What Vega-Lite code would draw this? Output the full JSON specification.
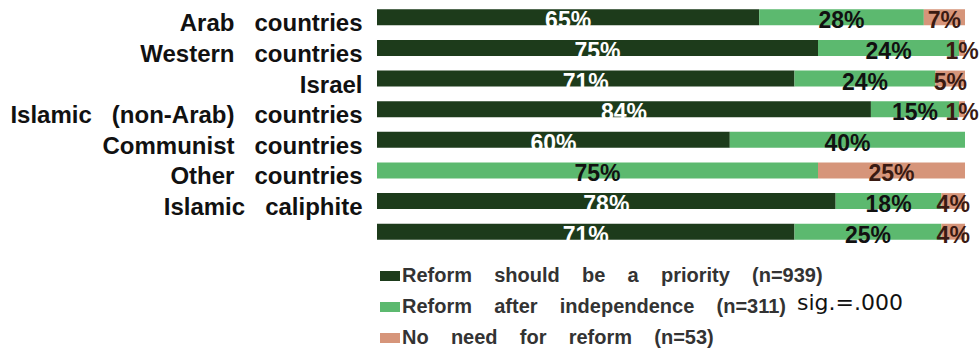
{
  "$schema": "https://vega.github.io/schema/vega-lite/v6.json",
  "width": 588,
  "height": 245,
  "autosize": {"type": "none"},
  "padding": {"left": 377, "top": 2, "right": 14, "bottom": 113},
  "background": "white",
  "config": {"view": {"stroke": null}, "font": "Liberation Sans"},
  "title": {
    "text": "sig.=.000",
    "orient": "bottom",
    "anchor": "start",
    "frame": "group",
    "font": "DejaVu Sans",
    "fontSize": 22,
    "fontWeight": "normal",
    "color": "#111111",
    "baseline": "alphabetic",
    "offset": 0,
    "dx": 420,
    "dy": -38
  },
  "data": {
    "values": [
      {"country": "Arab countries", "order": 1, "response": "Reform should be a priority (n=939)", "pct": 65},
      {"country": "Arab countries", "order": 2, "response": "Reform after independence (n=311)", "pct": 28},
      {"country": "Arab countries", "order": 3, "response": "No need for reform (n=53)", "pct": 7},
      {"country": "Western countries", "order": 1, "response": "Reform should be a priority (n=939)", "pct": 75},
      {"country": "Western countries", "order": 2, "response": "Reform after independence (n=311)", "pct": 24},
      {"country": "Western countries", "order": 3, "response": "No need for reform (n=53)", "pct": 1},
      {"country": "Israel", "order": 1, "response": "Reform should be a priority (n=939)", "pct": 71},
      {"country": "Israel", "order": 2, "response": "Reform after independence (n=311)", "pct": 24},
      {"country": "Israel", "order": 3, "response": "No need for reform (n=53)", "pct": 5},
      {"country": "Islamic (non-Arab) countries", "order": 1, "response": "Reform should be a priority (n=939)", "pct": 84},
      {"country": "Islamic (non-Arab) countries", "order": 2, "response": "Reform after independence (n=311)", "pct": 15},
      {"country": "Islamic (non-Arab) countries", "order": 3, "response": "No need for reform (n=53)", "pct": 1},
      {"country": "Communist countries", "order": 1, "response": "Reform should be a priority (n=939)", "pct": 60},
      {"country": "Communist countries", "order": 2, "response": "Reform after independence (n=311)", "pct": 40},
      {"country": "Other countries", "order": 2, "response": "Reform after independence (n=311)", "pct": 75},
      {"country": "Other countries", "order": 3, "response": "No need for reform (n=53)", "pct": 25},
      {"country": "Islamic caliphite", "order": 1, "response": "Reform should be a priority (n=939)", "pct": 78},
      {"country": "Islamic caliphite", "order": 2, "response": "Reform after independence (n=311)", "pct": 18},
      {"country": "Islamic caliphite", "order": 3, "response": "No need for reform (n=53)", "pct": 4},
      {"country": "Total", "order": 1, "response": "Reform should be a priority (n=939)", "pct": 71},
      {"country": "Total", "order": 2, "response": "Reform after independence (n=311)", "pct": 25},
      {"country": "Total", "order": 3, "response": "No need for reform (n=53)", "pct": 4}
    ]
  },
  "transform": [
    {"stack": "pct", "groupby": ["country"], "sort": [{"field": "order", "order": "ascending"}], "as": ["p0", "p1"]},
    {"calculate": "(datum.p0 + datum.p1) / 2", "as": "pmid"},
    {"calculate": "datum.pct + '%'", "as": "label"}
  ],
  "encoding": {
    "y": {
      "field": "country",
      "type": "nominal",
      "sort": ["Arab countries", "Western countries", "Israel", "Islamic (non-Arab) countries", "Communist countries", "Other countries", "Islamic caliphite", "Total"],
      "scale": {"paddingInner": 0.48, "paddingOuter": 0.24},
      "axis": {
        "title": null,
        "domain": false,
        "ticks": false,
        "labelPadding": 15,
        "labelFontSize": 24,
        "labelFontWeight": "bold",
        "labelColor": "#111111",
        "labelFont": "Liberation Sans",
        "labelBaseline": "middle",
        "labelOffset": 7,
        "labelLimit": 400,
        "labelExpr": "datum.label == 'Total' ? '' : replace(datum.label, / /g, '\u00a0\u00a0\u00a0')"
      }
    }
  },
  "layer": [
    {
      "mark": {"type": "bar"},
      "encoding": {
        "x": {"field": "p0", "type": "quantitative", "scale": {"domain": [0, 100], "nice": false}, "axis": null},
        "x2": {"field": "p1"},
        "color": {
          "field": "response",
          "type": "nominal",
          "scale": {
            "domain": ["Reform should be a priority (n=939)", "Reform after independence (n=311)", "No need for reform (n=53)"],
            "range": ["#1d3b1b", "#5cb96f", "#d6957a"]
          },
          "legend": {
            "title": null,
            "orient": "none",
            "legendX": 3,
            "legendY": 264,
            "direction": "vertical",
            "padding": 0,
            "symbolType": "M-1,-0.5H1V0.5H-1Z",
            "symbolSize": 400,
            "symbolStrokeWidth": 0,
            "labelFontSize": 20,
            "labelFontWeight": "bold",
            "labelColor": "#333333",
            "labelFont": "Liberation Sans",
            "labelOffset": 2,
            "labelLimit": 600,
            "rowPadding": 11,
            "labelExpr": "replace(datum.label, / /g, '\u00a0\u00a0\u00a0\u00a0')"
          }
        }
      }
    },
    {
      "mark": {"type": "text", "fontSize": 23, "fontWeight": "bold", "baseline": "middle", "dy": 4, "font": "Liberation Sans"},
      "encoding": {
        "x": {"field": "pmid", "type": "quantitative", "scale": {"domain": [0, 100], "nice": false}},
        "text": {"field": "label", "type": "nominal"},
        "color": {
          "condition": [
            {"test": "datum.order == 1", "value": "#ffffff"},
            {"test": "datum.order == 3", "value": "#3a1a12"}
          ],
          "value": "#111111"
        }
      }
    }
  ]
}
